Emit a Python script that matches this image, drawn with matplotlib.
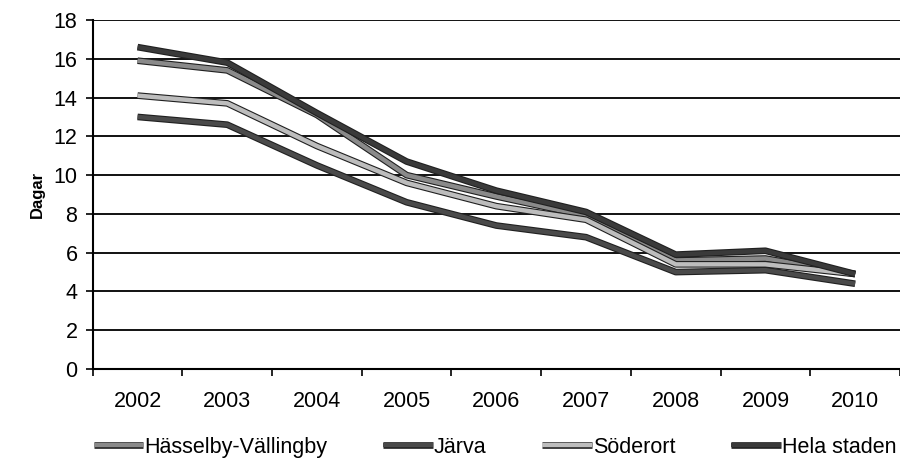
import matplotlib
matplotlib.use("Agg")
import matplotlib.pyplot as plt
import matplotlib.patheffects as pe

years = ["2002", "2003", "2004", "2005", "2006", "2007", "2008", "2009", "2010"]
hasselby = [15.9, 15.4, 13.1, 10.0, 8.9, 7.9, 5.6, 5.7, 4.9]
jarva = [13.0, 12.6, 10.5, 8.6, 7.4, 6.8, 5.0, 5.1, 4.4]
soderort = [14.1, 13.7, 11.5, 9.6, 8.4, 7.7, 5.4, 5.4, 4.9]
hela = [16.6, 15.8, 13.2, 10.7, 9.2, 8.1, 5.9, 6.1, 4.9]

series = [
    ("Hässelby-Vällingby", hasselby, "#8a8a8a"),
    ("Järva", jarva, "#4a4a4a"),
    ("Söderort", soderort, "#bdbdbd"),
    ("Hela staden", hela, "#3a3a3a"),
]

plt.rcParams["font.family"] = ["Liberation Sans", "DejaVu Sans"]

fig = plt.figure(figsize=(9, 4.75), dpi=100)
ax = fig.add_axes([0.103, 0.223, 0.897, 0.735])

x = range(len(years))
for name, vals, col in series:
    ax.plot(x, vals, color=col, lw=3.2, label=name, solid_capstyle="butt",
            path_effects=[pe.Stroke(linewidth=4.8, foreground="#202020"), pe.Normal()])

ax.set_xlim(-0.49, 8.5)
ax.set_ylim(0, 18)
ax.set_yticks(range(0, 19, 2))
ax.set_xticks(list(x))
ax.set_xticklabels(years)
ax.set_xticks([i + 0.5 for i in range(-1, 9)], minor=True)
ax.tick_params(axis="x", which="major", length=0, pad=16, labelsize=15.5)
ax.tick_params(axis="x", which="minor", length=5, width=1.2, direction="out")
ax.tick_params(axis="y", length=5, width=1.2, labelsize=15.5, pad=6)

ax.grid(axis="y", color="#111111", lw=1.4)
ax.set_axisbelow(True)
for s in ["top", "right"]:
    ax.spines[s].set_visible(False)
ax.spines["left"].set_linewidth(1.5)
ax.spines["bottom"].set_linewidth(1.5)

ax.set_ylabel("Dagar", fontsize=12, fontweight="bold", labelpad=6)

fig.legend(*ax.get_legend_handles_labels(), loc="center", bbox_to_anchor=(0.55, 0.058),
           ncol=4, frameon=False, fontsize=15.5, handlelength=2.3,
           handletextpad=0.05, columnspacing=2.6, borderpad=0)

fig.savefig("out.png", dpi=100)
